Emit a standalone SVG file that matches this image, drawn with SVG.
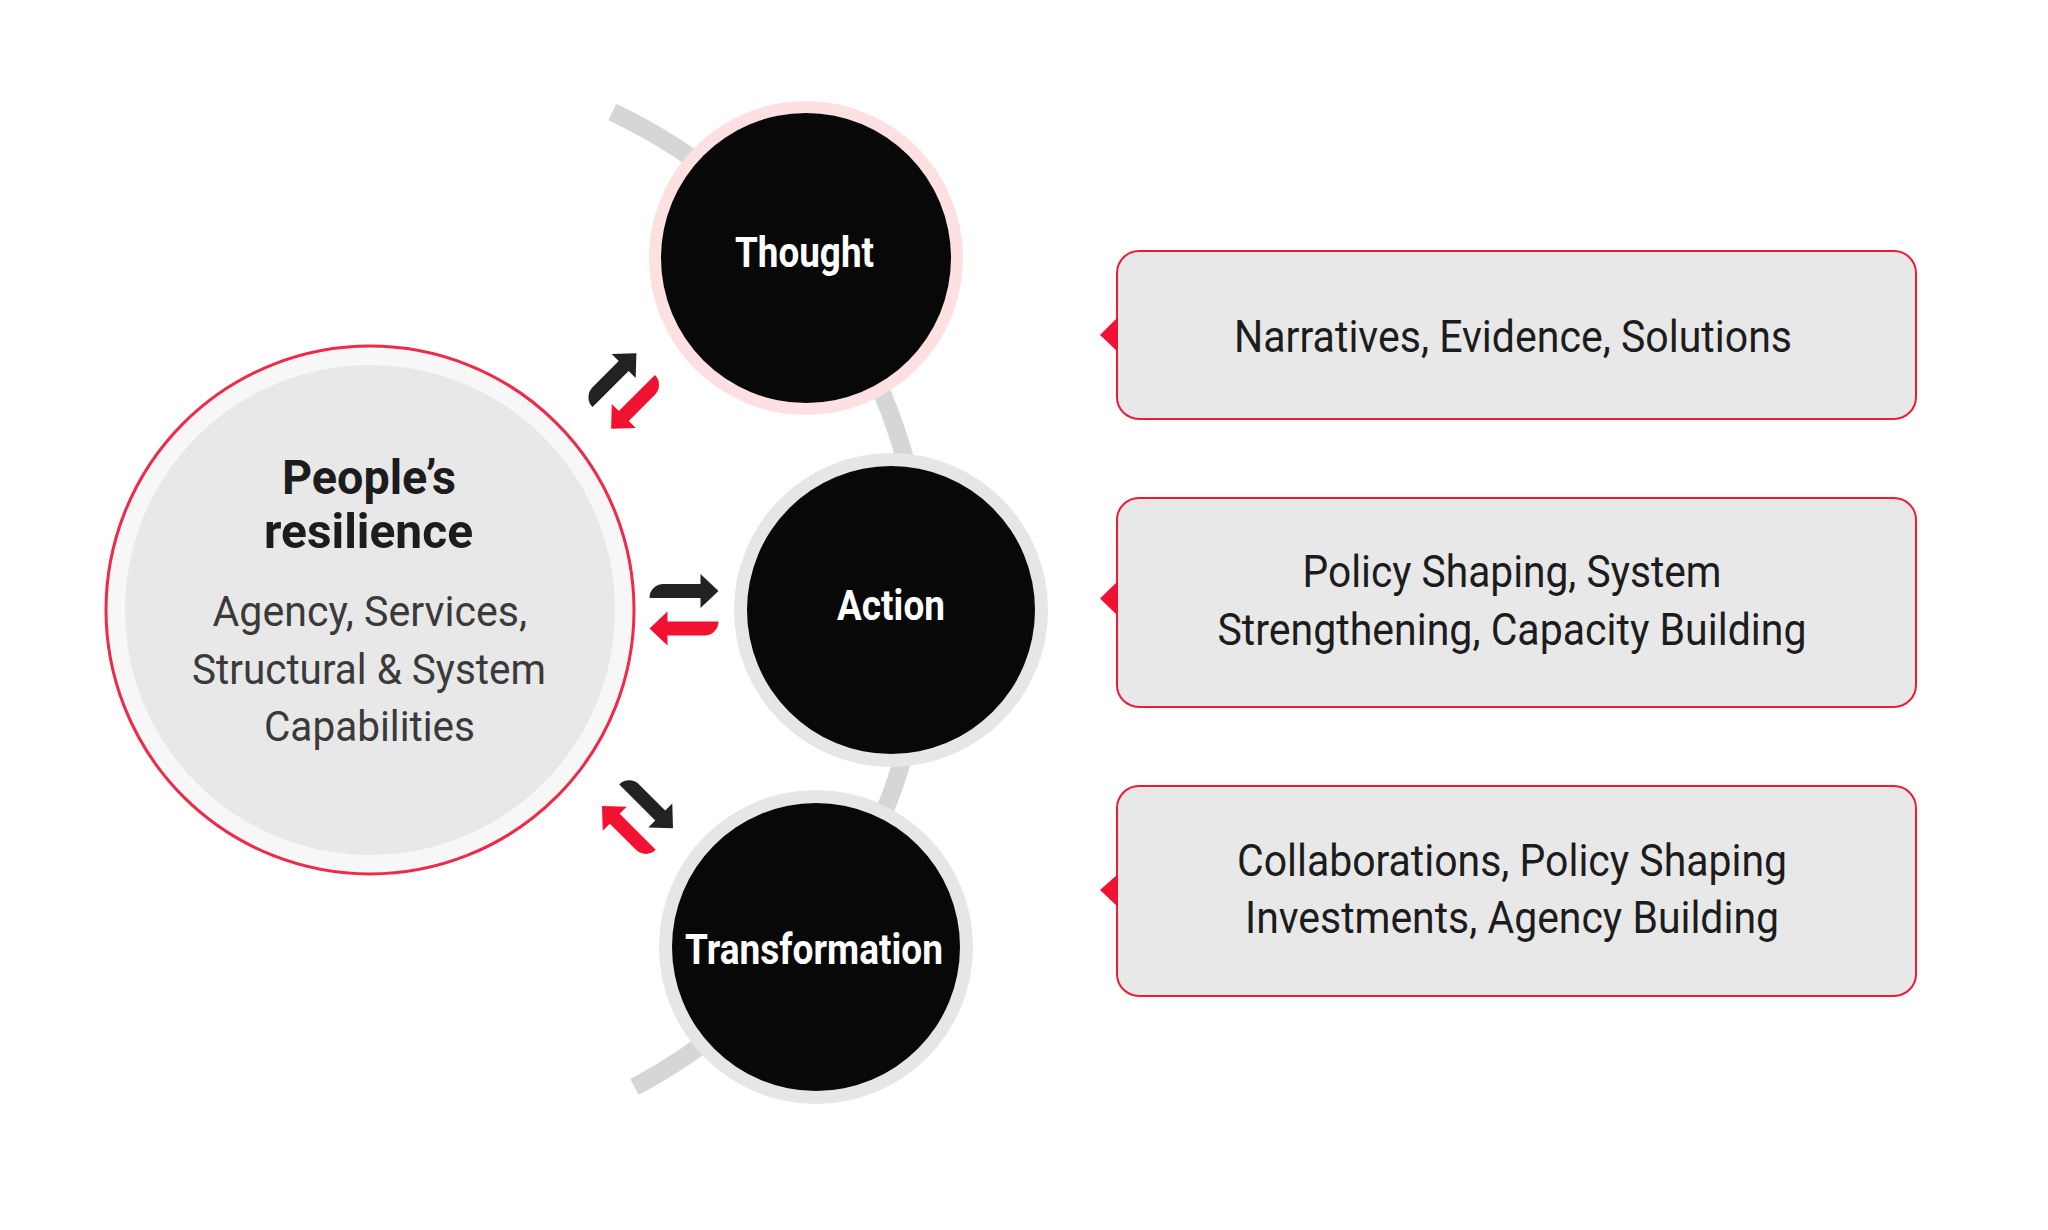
<svg xmlns="http://www.w3.org/2000/svg" xmlns:xlink="http://www.w3.org/1999/xlink" width="2048" height="1230" viewBox="0 0 2048 1230">
  <style>
    .ring-pink { fill: #fde0e1; }
    .ring-grey { fill: #e6e6e6; }
    .core { fill: #080808; }
    .node-label { font-family: Roboto, "Liberation Sans", sans-serif; font-weight: 700; font-size: 43px; fill: #ffffff; text-anchor: middle; }
    .title { font-family: Roboto, "Liberation Sans", sans-serif; font-weight: 700; font-size: 49px; fill: #1c1c1c; text-anchor: middle; }
    .sub { font-family: Roboto, "Liberation Sans", sans-serif; font-weight: 400; font-size: 43px; fill: #3a3a3a; text-anchor: middle; }
    .box { fill: #e8e8e8; stroke: #ee1b36; stroke-width: 2; }
    .ptr { fill: #f01233; }
    .box-text { font-family: Roboto, "Liberation Sans", sans-serif; font-weight: 400; font-size: 44px; fill: #1c1c1c; text-anchor: middle; }
    .arr-dark { fill: #222222; }
    .arr-red { fill: #f11232; }
  </style>
  <defs>
    <path id="arrow" d="M -34.5 7 A 14 14 0 0 1 -20.5 -7 L 16.5 -7 L 16.5 -17 L 34.5 0 L 16.5 17 L 16.5 7 Z"/>
  </defs>
  <rect x="0" y="0" width="2048" height="1230" fill="#ffffff"/>

  <g id="backbone">
    <path d="M 612.3 112 A 545 545 0 0 1 634.5 1086.9" fill="none" stroke="#d6d6d6" stroke-width="18"/>
  </g>

  <g id="node-resilience">
    <circle cx="370" cy="610" r="264" fill="#f7f7f7" stroke="#ee2a48" stroke-width="3"/>
    <circle cx="370" cy="610" r="245" fill="#e8e8e8"/>
    <text class="title" x="369" y="493.6" textLength="174" lengthAdjust="spacingAndGlyphs">People’s</text>
    <text class="title" x="368.5" y="548" textLength="209" lengthAdjust="spacingAndGlyphs">resilience</text>
    <text class="sub" x="369.8" y="626.4" textLength="314.5" lengthAdjust="spacingAndGlyphs">Agency, Services,</text>
    <text class="sub" x="369" y="684" textLength="354" lengthAdjust="spacingAndGlyphs">Structural &amp; System</text>
    <text class="sub" x="369.5" y="740.7" textLength="211" lengthAdjust="spacingAndGlyphs">Capabilities</text>
  </g>

  <g id="node-thought">
    <circle class="ring-pink" cx="806" cy="258" r="157"/>
    <circle class="core" cx="806" cy="258" r="145"/>
    <text class="node-label" x="804.5" y="267" textLength="139" lengthAdjust="spacingAndGlyphs">Thought</text>
  </g>

  <g id="node-action">
    <circle class="ring-grey" cx="891" cy="610" r="157"/>
    <circle class="core" cx="891" cy="610" r="144"/>
    <text class="node-label" x="891" y="620" textLength="108" lengthAdjust="spacingAndGlyphs">Action</text>
  </g>

  <g id="node-transformation">
    <circle class="ring-grey" cx="816" cy="947" r="157"/>
    <circle class="core" cx="816" cy="947" r="144"/>
    <text class="node-label" x="814" y="964" textLength="258" lengthAdjust="spacingAndGlyphs">Transformation</text>
  </g>

  <g id="connectors">
    <use xlink:href="#arrow" href="#arrow" class="arr-dark" transform="translate(612 377.7) rotate(-45)"/>
    <use xlink:href="#arrow" href="#arrow" class="arr-red" transform="translate(635.5 404.3) rotate(135)"/>
    <use xlink:href="#arrow" href="#arrow" class="arr-dark" transform="translate(684 591)"/>
    <use xlink:href="#arrow" href="#arrow" class="arr-red" transform="translate(684 628.5) rotate(180)"/>
    <use xlink:href="#arrow" href="#arrow" class="arr-dark" transform="translate(648.6 803.9) rotate(45)"/>
    <use xlink:href="#arrow" href="#arrow" class="arr-red" transform="translate(626.4 830.4) rotate(225)"/>
  </g>

  <g id="box-thought">
    <rect class="box" x="1117" y="251" width="799" height="168" rx="22"/>
    <polygon class="ptr" points="1118,317 1100,335 1118,352"/>
    <text class="box-text" x="1513" y="351.7" textLength="558" lengthAdjust="spacingAndGlyphs">Narratives, Evidence, Solutions</text>
  </g>

  <g id="box-action">
    <rect class="box" x="1117" y="498" width="799" height="209" rx="22"/>
    <polygon class="ptr" points="1118,581 1100,598.5 1118,616"/>
    <text class="box-text" x="1512" y="587" textLength="419" lengthAdjust="spacingAndGlyphs">Policy Shaping, System</text>
    <text class="box-text" x="1512" y="644.5" textLength="589" lengthAdjust="spacingAndGlyphs">Strengthening, Capacity Building</text>
  </g>

  <g id="box-transformation">
    <rect class="box" x="1117" y="786" width="799" height="210" rx="22"/>
    <polygon class="ptr" points="1118,874 1100,890 1118,907"/>
    <text class="box-text" x="1512" y="876" textLength="550" lengthAdjust="spacingAndGlyphs">Collaborations, Policy Shaping</text>
    <text class="box-text" x="1512" y="933" textLength="534" lengthAdjust="spacingAndGlyphs">Investments, Agency Building</text>
  </g>
</svg>
